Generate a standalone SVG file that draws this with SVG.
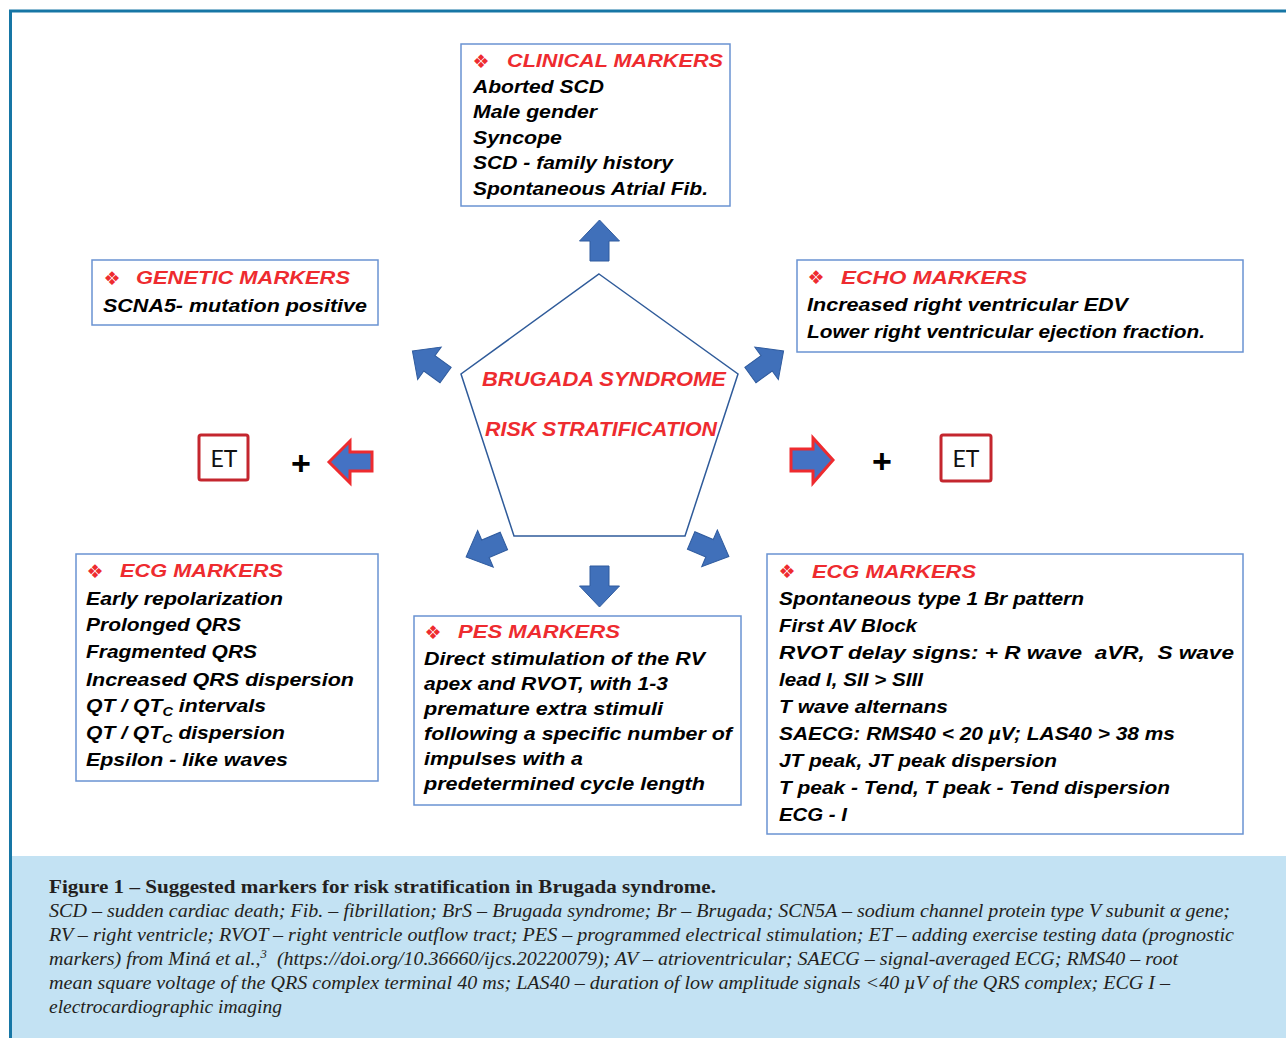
<svg xmlns="http://www.w3.org/2000/svg" xmlns:xlink="http://www.w3.org/1999/xlink" width="1286" height="1038" viewBox="0 0 1286 1038">
<style>
.box{fill:#fff;stroke:#6a93d2;stroke-width:1.5}
.hd{font-family:"Liberation Sans",Arial,sans-serif;font-weight:bold;font-style:italic;font-size:19px;fill:#ee2b2f}
.tx{font-family:"Liberation Sans",Arial,sans-serif;font-weight:bold;font-style:italic;font-size:19px;fill:#000}
.ttl{font-family:"Liberation Sans",Arial,sans-serif;font-weight:bold;font-style:italic;font-size:20px;fill:#ee2b2f}
.bul{font-family:"DejaVu Sans",sans-serif;font-size:19px;fill:#ee2b2f;text-anchor:middle}
.arr{fill:#4070ba;stroke:#2f5b9e;stroke-width:1}
.rarr{fill:#4472c4;stroke:#ee2b2f;stroke-width:3}
.et{fill:#fff;stroke:#c4262e;stroke-width:3}
.ett{font-family:Lato,"Liberation Sans",sans-serif;font-size:23px;fill:#111;text-anchor:middle}
.plus{font-family:"Liberation Sans",Arial,sans-serif;font-weight:bold;font-size:34px;fill:#000;text-anchor:middle}
.capb{font-family:"Liberation Serif","Times New Roman",serif;font-size:19px;font-weight:bold;fill:#231f20}
.capi{font-family:"Liberation Serif","Times New Roman",serif;font-size:19px;font-style:italic;fill:#231f20}
</style>
<defs>
<path id="blk" d="M0,-20.5 L20,0.5 L9.5,0.5 L9.5,20.5 L-9.5,20.5 L-9.5,0.5 L-20,0.5 Z"/>
</defs>
<rect x="0" y="0" width="1286" height="1038" fill="#fff"/>
<rect x="11" y="856" width="1275" height="182" fill="#c3e2f3"/>
<path d="M10.5,1038 V11 H1286" fill="none" stroke="#1676a5" stroke-width="3"/>

<g id="connectors">
<use xlink:href="#blk" class="arr" transform="translate(599.5,240.5)"/>
<use xlink:href="#blk" class="arr" transform="translate(599.5,586.5) rotate(180)"/>
<use xlink:href="#blk" class="arr" transform="translate(429,363) rotate(-54)"/>
<use xlink:href="#blk" class="arr" transform="translate(767,363) rotate(54)"/>
<use xlink:href="#blk" class="arr" transform="translate(485,549) rotate(-113)"/>
<use xlink:href="#blk" class="arr" transform="translate(710,548.5) rotate(113)"/>
<path class="rarr" d="M329,462 L350,441 L350,452 L372,452 L372,471 L350,471 L350,483 Z"/>
<path class="rarr" d="M833,460 L813,438 L813,449 L791,449 L791,471 L813,471 L813,483 Z"/>
</g>

<g id="center">
<polygon points="599,274 738,374 685,536 514,536 461,374" fill="#fff" stroke="#2f5b9a" stroke-width="1.5"/>
<text class="ttl" x="482" y="386" textLength="244" lengthAdjust="spacingAndGlyphs">BRUGADA SYNDROME</text>
<text class="ttl" x="485" y="436" textLength="232" lengthAdjust="spacingAndGlyphs">RISK STRATIFICATION</text>
</g>

<g id="clinical">
<rect class="box" x="461" y="44" width="269" height="162"/>
<text class="bul" x="481" y="68">❖</text>
<text class="hd" x="507" y="67" textLength="216" lengthAdjust="spacingAndGlyphs">CLINICAL MARKERS</text>
<text class="tx" x="473" y="92.5" textLength="131" lengthAdjust="spacingAndGlyphs">Aborted SCD</text>
<text class="tx" x="473" y="118" textLength="124" lengthAdjust="spacingAndGlyphs">Male gender</text>
<text class="tx" x="473" y="143.5" textLength="89" lengthAdjust="spacingAndGlyphs">Syncope</text>
<text class="tx" x="473" y="169" textLength="200" lengthAdjust="spacingAndGlyphs">SCD - family history</text>
<text class="tx" x="473" y="194.5" textLength="235" lengthAdjust="spacingAndGlyphs">Spontaneous Atrial Fib.</text>
</g>

<g id="genetic">
<rect class="box" x="92" y="260" width="286" height="65"/>
<text class="bul" x="112" y="285">❖</text>
<text class="hd" x="136" y="284" textLength="214" lengthAdjust="spacingAndGlyphs">GENETIC MARKERS</text>
<text class="tx" x="103" y="311.5" textLength="264" lengthAdjust="spacingAndGlyphs">SCNA5- mutation positive</text>
</g>

<g id="echo">
<rect class="box" x="797" y="260" width="446" height="92"/>
<text class="bul" x="816" y="284">❖</text>
<text class="hd" x="841" y="284" textLength="186" lengthAdjust="spacingAndGlyphs">ECHO MARKERS</text>
<text class="tx" x="807" y="311" textLength="321" lengthAdjust="spacingAndGlyphs">Increased right ventricular EDV</text>
<text class="tx" x="807" y="338" textLength="398" lengthAdjust="spacingAndGlyphs">Lower right ventricular ejection fraction.</text>
</g>

<g id="et-left">
<rect class="et" x="199" y="435" width="49" height="45" rx="2"/>
<text class="ett" x="224" y="467">ET</text>
<text class="plus" x="301" y="475">+</text>
</g>

<g id="et-right">
<rect class="et" x="941" y="435" width="50" height="46" rx="2"/>
<text class="ett" x="966" y="467">ET</text>
<text class="plus" x="882" y="473">+</text>
</g>

<g id="ecg-left">
<rect class="box" x="76" y="554" width="302" height="227"/>
<text class="bul" x="95" y="578">❖</text>
<text class="hd" x="120" y="577" textLength="163" lengthAdjust="spacingAndGlyphs">ECG MARKERS</text>
<text class="tx" x="86" y="604.5" textLength="197" lengthAdjust="spacingAndGlyphs">Early repolarization</text>
<text class="tx" x="86" y="631.3" textLength="155" lengthAdjust="spacingAndGlyphs">Prolonged QRS</text>
<text class="tx" x="86" y="658.1" textLength="171" lengthAdjust="spacingAndGlyphs">Fragmented QRS</text>
<text class="tx" x="86" y="685.5" textLength="268" lengthAdjust="spacingAndGlyphs">Increased QRS dispersion</text>
<text class="tx" x="86" y="712.3" textLength="180" lengthAdjust="spacingAndGlyphs">QT / QT<tspan font-size="13" dy="4">C</tspan><tspan dy="-4"> intervals</tspan></text>
<text class="tx" x="86" y="739" textLength="199" lengthAdjust="spacingAndGlyphs">QT / QT<tspan font-size="13" dy="4">C</tspan><tspan dy="-4"> dispersion</tspan></text>
<text class="tx" x="86" y="765.5" textLength="202" lengthAdjust="spacingAndGlyphs">Epsilon - like waves</text>
</g>

<g id="pes">
<rect class="box" x="414" y="616" width="327" height="189"/>
<text class="bul" x="433" y="639">❖</text>
<text class="hd" x="458" y="638" textLength="162" lengthAdjust="spacingAndGlyphs">PES MARKERS</text>
<text class="tx" x="424" y="665" textLength="281" lengthAdjust="spacingAndGlyphs">Direct stimulation of the RV</text>
<text class="tx" x="424" y="690" textLength="244" lengthAdjust="spacingAndGlyphs">apex and RVOT, with 1-3</text>
<text class="tx" x="424" y="715" textLength="239" lengthAdjust="spacingAndGlyphs">premature extra stimuli</text>
<text class="tx" x="424" y="740" textLength="308" lengthAdjust="spacingAndGlyphs">following a specific number of</text>
<text class="tx" x="424" y="765" textLength="159" lengthAdjust="spacingAndGlyphs">impulses with a</text>
<text class="tx" x="424" y="790" textLength="281" lengthAdjust="spacingAndGlyphs">predetermined cycle length</text>
</g>

<g id="ecg-right">
<rect class="box" x="767" y="554" width="476" height="280"/>
<text class="bul" x="787" y="578">❖</text>
<text class="hd" x="812" y="578" textLength="164" lengthAdjust="spacingAndGlyphs">ECG MARKERS</text>
<text class="tx" x="779" y="605" textLength="305" lengthAdjust="spacingAndGlyphs">Spontaneous type 1 Br pattern</text>
<text class="tx" x="779" y="632" textLength="138" lengthAdjust="spacingAndGlyphs">First AV Block</text>
<text class="tx" x="779" y="659" textLength="455" lengthAdjust="spacingAndGlyphs">RVOT delay signs: + R wave &#160;aVR, &#160;S wave</text>
<text class="tx" x="779" y="686" textLength="144" lengthAdjust="spacingAndGlyphs">lead I, SII &gt; SIII</text>
<text class="tx" x="779" y="712.5" textLength="169" lengthAdjust="spacingAndGlyphs">T wave alternans</text>
<text class="tx" x="779" y="739.5" textLength="396" lengthAdjust="spacingAndGlyphs">SAECG: RMS40 &lt; 20 µV; LAS40 &gt; 38 ms</text>
<text class="tx" x="779" y="766.5" textLength="278" lengthAdjust="spacingAndGlyphs">JT peak, JT peak dispersion</text>
<text class="tx" x="779" y="793.5" textLength="391" lengthAdjust="spacingAndGlyphs">T peak - Tend, T peak - Tend dispersion</text>
<text class="tx" x="779" y="820.5" textLength="68" lengthAdjust="spacingAndGlyphs">ECG - I</text>
</g>

<g id="caption">
<text class="capb" x="49" y="893" textLength="667" lengthAdjust="spacingAndGlyphs">Figure 1 – Suggested markers for risk stratification in Brugada syndrome.</text>
<text class="capi" x="49" y="917" textLength="1181" lengthAdjust="spacingAndGlyphs">SCD – sudden cardiac death; Fib. – fibrillation; BrS – Brugada syndrome; Br – Brugada; SCN5A – sodium channel protein type V subunit α gene;</text>
<text class="capi" x="49" y="941" textLength="1185" lengthAdjust="spacingAndGlyphs">RV – right ventricle; RVOT – right ventricle outflow tract; PES – programmed electrical stimulation; ET – adding exercise testing data (prognostic</text>
<text class="capi" x="49" y="965" textLength="1129" lengthAdjust="spacingAndGlyphs">markers) from Miná et al.,<tspan font-size="12" dy="-7">3</tspan><tspan dy="7">&#160; (https://doi.org/10.36660/ijcs.20220079); AV – atrioventricular; SAECG – signal-averaged ECG; RMS40 – root</tspan></text>
<text class="capi" x="49" y="989" textLength="1121" lengthAdjust="spacingAndGlyphs">mean square voltage of the QRS complex terminal 40 ms; LAS40 – duration of low amplitude signals &lt;40 µV of the QRS complex; ECG I –</text>
<text class="capi" x="49" y="1013" textLength="233" lengthAdjust="spacingAndGlyphs">electrocardiographic imaging</text>
</g>
</svg>
